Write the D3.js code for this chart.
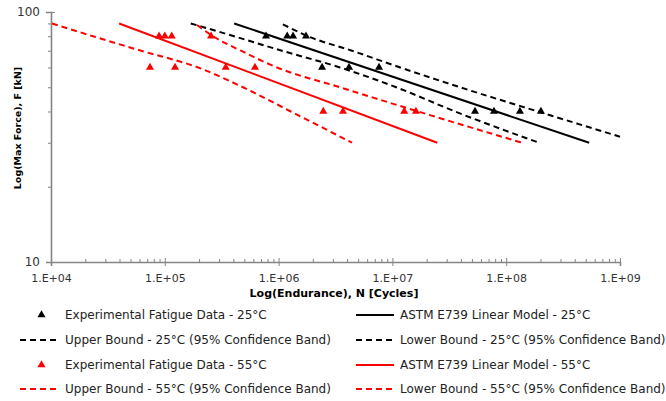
<!DOCTYPE html>
<html lang="en">
<head>
<meta charset="UTF-8">
<title>Fatigue S-N</title>
<script src="https://d3js.org/d3.v7.min.js"></script>
<style>
  body { margin: 0; background: #fff; }
  text { font-family: "DejaVu Sans", sans-serif; }
</style>
</head>
<body>
<div id="chart"></div>
<script>
	// experimental points, 25°C
	var n25 = [7.75e5, 1.19e6, 1.34e6, 1.74e6, 2.41e6, 4.16e6, 7.63e6, 5.32e7, 7.81e7, 1.32e8, 2.02e8];
	var f25 = [80, 80, 80, 80, 60, 60, 60, 40, 40, 40, 40];
	// experimental points, 55°C
	var n55 = [8.9e4, 1.0e5, 1.15e5, 2.55e5, 7.41e4, 1.23e5, 3.43e5, 6.2e5, 2.47e6, 3.68e6, 1.27e7, 1.61e7];
	var f55 = [80, 80, 80, 80, 60, 60, 60, 60, 40, 40, 40, 40];

	// model lines and confidence bands
	var model25N = [4.07e5, 5.36e8], model25F = [90, 30];
	var upper25N = [1.09e6, 1.81e6, 4.42e6, 1.17e7, 3.93e7, 1.90e8, 1.0e9];
	var upper25F = [89.3, 80, 70, 60, 50, 40, 31.7];
	var lower25N = [1.69e5, 4.06e5, 1.07e6, 3.46e6, 1.08e7, 3.55e7, 1.94e8];
	var lower25F = [90, 80, 70, 60, 50, 40, 30];
	var model55N = [3.97e4, 2.48e7], model55F = [90, 30];
	var upper55N = [1.92e5, 2.65e5, 4.67e5, 9.68e5, 3.46e6, 1.68e7, 1.38e8];
	var upper55F = [88.7, 80, 70, 60, 50, 40, 30];
	var lower55N = [1.02e4, 2.34e4, 6.18e4, 1.96e5, 4.87e5, 1.28e6, 4.42e6];
	var lower55F = [90, 80, 70, 60, 50, 40, 30];

	var xTicks = [1e4, 1e5, 1e6, 1e7, 1e8, 1e9];
	var yTicks = [10, 100];

	var legendLabels = [
		"Experimental Fatigue Data - 25°C", "ASTM E739 Linear Model - 25°C",
		"Upper Bound - 25°C (95% Confidence Band)", "Lower Bound - 25°C (95% Confidence Band)",
		"Experimental Fatigue Data - 55°C", "ASTM E739 Linear Model - 55°C",
		"Upper Bound - 55°C (95% Confidence Band)", "Lower Bound - 55°C (95% Confidence Band)"
	];

	var width = 666, height = 401;
	var svg = d3.select("#chart").append("svg")
		.attr("width", width)
		.attr("height", height);

	var x = d3.scaleLog().domain([1e4, 1e9]).range([51, 620]);
	var y = d3.scaleLog().domain([10, 100]).range([262, 12]);
	var axisColor = "#858585";

	// minor ticks
	var xMinor = [];
	for (var e = 4; e < 9; e++) for (var m = 2; m < 10; m++) xMinor.push(m * Math.pow(10, e));
	var yMinor = d3.range(20, 100, 10);

	svg.append("g")
		.attr("transform", "translate(0,262)")
		.call(d3.axisTop(x).tickValues(xMinor).tickSize(3).tickFormat(""))
		.call(function(g) { g.select(".domain").remove(); g.selectAll("line").attr("stroke", axisColor); });

	svg.append("g")
		.attr("transform", "translate(51,0)")
		.call(d3.axisLeft(y).tickValues(yMinor).tickSize(3).tickFormat(""))
		.call(function(g) { g.select(".domain").remove(); g.selectAll("line").attr("stroke", axisColor); });

	// major axes
	var xAxis = svg.append("g")
		.attr("transform", "translate(0,262)")
		.call(d3.axisBottom(x).tickValues(xTicks).tickSizeOuter(0).tickSize(4).tickPadding(8)
			.tickFormat(function(d) { return "1.E+" + String(Math.round(Math.log10(d))).padStart(2, "0"); }));
	xAxis.select(".domain").attr("stroke", axisColor).attr("stroke-width", 1.6);
	xAxis.selectAll(".tick line").attr("stroke", axisColor).attr("y1", -4);
	xAxis.selectAll("text").attr("font-size", 11).attr("fill", "#333")
		.attr("font-family", "DejaVu Sans, sans-serif");

	var yAxis = svg.append("g")
		.attr("transform", "translate(51,0)")
		.call(d3.axisLeft(y).tickValues(yTicks).tickSizeOuter(0).tickSize(5).tickPadding(6)
			.tickFormat(d3.format("d")));
	yAxis.select(".domain").attr("stroke", axisColor).attr("stroke-width", 1.6);
	yAxis.selectAll(".tick line").attr("stroke", axisColor).attr("x1", 4);
	yAxis.selectAll("text").attr("font-size", 12).attr("fill", "#333")
		.attr("font-family", "DejaVu Sans, sans-serif");

	// axis titles
	svg.append("text")
		.attr("x", 334).attr("y", 297)
		.attr("text-anchor", "middle")
		.attr("font-size", 11).attr("font-weight", "bold")
		.text("Log(Endurance), N [Cycles]");
	svg.append("text")
		.attr("transform", "translate(21,128) rotate(-90)")
		.attr("text-anchor", "middle")
		.attr("font-size", 9.5).attr("font-weight", "bold")
		.text("Log(Max Force), F [kN]");

	var line = d3.line()
		.x(function(d) { return x(d[0]); })
		.y(function(d) { return y(d[1]); })
		.curve(d3.curveMonotoneX);

	var series = [
		{n: upper25N, f: upper25F, color: "#000", dash: "6,4"},
		{n: lower25N, f: lower25F, color: "#000", dash: "6,4"},
		{n: model25N, f: model25F, color: "#000", dash: null},
		{n: upper55N, f: upper55F, color: "#ff0000", dash: "6,4"},
		{n: lower55N, f: lower55F, color: "#ff0000", dash: "6,4"},
		{n: model55N, f: model55F, color: "#ff0000", dash: null}
	];

	svg.selectAll(".curve")
		.data(series)
		.enter().append("path")
		.attr("class", "curve")
		.attr("d", function(s) { return line(d3.zip(s.n, s.f)); })
		.attr("fill", "none")
		.attr("stroke", function(s) { return s.color; })
		.attr("stroke-width", 2)
		.attr("stroke-dasharray", function(s) { return s.dash; });

	var tri = d3.symbol().type(d3.symbolTriangle).size(28);

	svg.selectAll(".p25")
		.data(d3.zip(n25, f25))
		.enter().append("path")
		.attr("class", "p25")
		.attr("d", tri)
		.attr("transform", function(d) { return "translate(" + x(d[0]) + "," + y(d[1]) + ")"; })
		.attr("fill", "#000");

	svg.selectAll(".p55")
		.data(d3.zip(n55, f55))
		.enter().append("path")
		.attr("class", "p55")
		.attr("d", tri)
		.attr("transform", function(d) { return "translate(" + x(d[0]) + "," + y(d[1]) + ")"; })
		.attr("fill", "#ff0000");

	// legend
	var legendKeys = [
		{type: "tri", color: "#000"}, {type: "solid", color: "#000"},
		{type: "dash", color: "#000"}, {type: "dash", color: "#000"},
		{type: "tri", color: "#ff0000"}, {type: "solid", color: "#ff0000"},
		{type: "dash", color: "#ff0000"}, {type: "dash", color: "#ff0000"}
	];
	var rowY = [315, 340, 365, 389];
	var colX = [[20, 59, 65], [356, 394, 400]];

	var items = svg.selectAll(".leg")
		.data(legendLabels)
		.enter().append("g")
		.attr("class", "leg")
		.attr("transform", function(d, i) { return "translate(0," + rowY[Math.floor(i / 2)] + ")"; });

	items.each(function(label, i) {
		var g = d3.select(this), c = colX[i % 2], k = legendKeys[i];
		if (k.type === "tri") {
			g.append("path").attr("d", tri)
				.attr("transform", "translate(" + ((c[0] + c[1]) / 2 + 2) + ",0)")
				.attr("fill", k.color);
		} else {
			g.append("line")
				.attr("x1", c[0]).attr("x2", c[1])
				.attr("stroke", k.color).attr("stroke-width", 2)
				.attr("stroke-dasharray", k.type === "dash" ? "6,4" : null);
		}
		g.append("text")
			.attr("x", c[2]).attr("y", 4)
			.attr("font-size", 12).attr("fill", "#222")
			.text(label);
	});
</script>
</body>
</html>
